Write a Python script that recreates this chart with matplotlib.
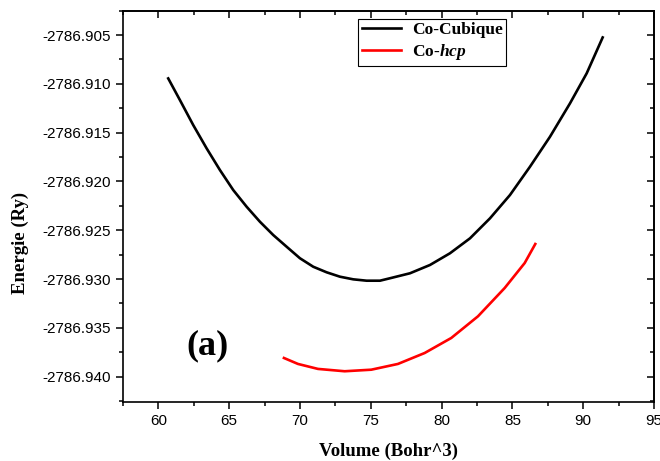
import numpy as np
import matplotlib.pyplot as plt
from matplotlib.ticker import MultipleLocator, FormatStrFormatter

plt.rcParams["mathtext.fontset"] = "custom"
plt.rcParams["mathtext.bfit"] = "Liberation Serif:italic:bold"
plt.rcParams["mathtext.rm"] = "Liberation Serif:bold"

# Co-Cubique (black)
vol_cub = [60.692, 61.519, 62.458, 63.405, 64.344, 65.284, 66.230, 67.170,
           68.109, 69.056, 69.995, 70.935, 71.881, 72.821, 73.760, 74.707,
           75.646, 76.352, 77.765, 79.178, 80.590, 82.003, 83.416, 84.828,
           86.241, 87.653, 89.066, 90.246, 91.376]
e_cub = [-2786.90944, -2786.91166, -2786.91422, -2786.91661, -2786.91883,
         -2786.92088, -2786.92259, -2786.92413, -2786.92549, -2786.92669,
         -2786.92787, -2786.92874, -2786.92931, -2786.92976, -2786.93003,
         -2786.93017, -2786.93017, -2786.92992, -2786.92941, -2786.92856,
         -2786.92736, -2786.92583, -2786.92378, -2786.92139, -2786.91849,
         -2786.91542, -2786.91200, -2786.90892, -2786.90524]

# Co-hcp (red)
vol_hcp = [68.865, 69.854, 71.267, 73.153, 75.032, 76.917, 78.803, 80.682,
           82.568, 84.454, 85.867, 86.616]
e_hcp = [-2786.93809, -2786.93870, -2786.93921, -2786.93945, -2786.93929,
         -2786.93870, -2786.93758, -2786.93604, -2786.93382, -2786.93092,
         -2786.92836, -2786.92641]

fig = plt.figure(figsize=(6.6, 4.61), dpi=100)
ax = fig.add_axes([0.1864, 0.128, 0.8045, 0.8488])

ax.plot(vol_cub, e_cub, color="black", linewidth=1.9, label="Co-Cubique")
ax.plot(vol_hcp, e_hcp, color="red", linewidth=1.9, label="Co-$\\mathbfit{hcp}$")

ax.set_xlim(57.5, 95)
ax.set_ylim(-2786.9426, -2786.9025)
ax.ticklabel_format(useOffset=False)
ax.xaxis.set_major_locator(MultipleLocator(5))
ax.xaxis.set_minor_locator(MultipleLocator(2.5))
ax.yaxis.set_major_locator(MultipleLocator(0.005))
ax.yaxis.set_minor_locator(MultipleLocator(0.0025))
ax.yaxis.set_major_formatter(FormatStrFormatter("%.3f"))

for lab in ax.get_xticklabels() + ax.get_yticklabels():
    lab.set_fontfamily("Liberation Sans")
    lab.set_fontsize(11)
ax.tick_params(which="major", direction="out", length=5, width=1.1)
ax.tick_params(which="minor", direction="out", length=3, width=1.1)
for s in ax.spines.values():
    s.set_linewidth(1.2)

# inward ticks on top and right
top = ax.secondary_xaxis("top")
top.xaxis.set_major_locator(MultipleLocator(5))
top.xaxis.set_minor_locator(MultipleLocator(2.5))
top.tick_params(which="major", direction="in", length=5, width=1.1, labeltop=False)
top.tick_params(which="minor", direction="in", length=3, width=1.1)
top.spines["top"].set_linewidth(1.2)
right = ax.secondary_yaxis("right")
right.yaxis.set_major_locator(MultipleLocator(0.005))
right.yaxis.set_minor_locator(MultipleLocator(0.0025))
right.tick_params(which="major", direction="in", length=5, width=1.1, labelright=False)
right.tick_params(which="minor", direction="in", length=3, width=1.1)
right.spines["right"].set_linewidth(1.2)

ax.set_xlabel("Volume (Bohr^3)", fontfamily="Liberation Serif", fontweight="bold",
              fontsize=13.5)
ax.set_ylabel("Energie (Ry)", fontfamily="Liberation Serif", fontweight="bold",
              fontsize=13.5)
ax.xaxis.set_label_coords(0.50, -0.103)
ax.yaxis.set_label_coords(-0.177, 0.407)

ax.text(63.5, -2786.9368, "(a)", fontfamily="Liberation Serif", fontweight="bold",
        fontsize=26, ha="center", va="center")

leg = ax.legend(loc="upper left", bbox_to_anchor=(0.4426, 0.98), borderaxespad=0,
                fancybox=False, edgecolor="black", framealpha=1,
                prop={"family": "Liberation Serif", "weight": "bold", "size": 12.5},
                handlelength=2.3, borderpad=0.2, labelspacing=0.25, handletextpad=0.6)
leg.get_frame().set_linewidth(0.8)

plt.savefig("out.png", dpi=100)
